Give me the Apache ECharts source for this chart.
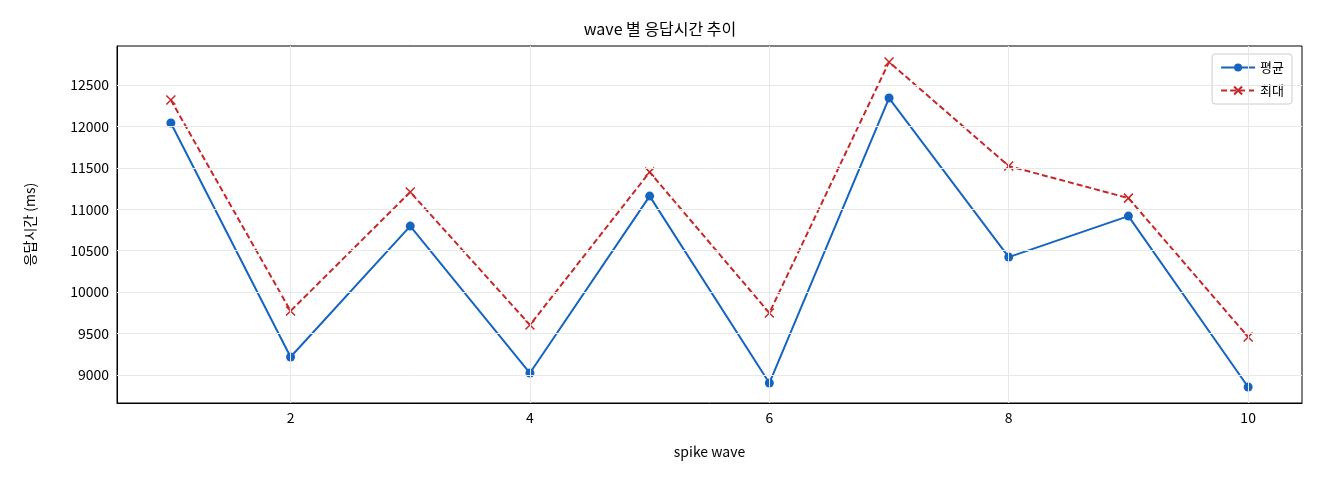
<!DOCTYPE html>
<html><head><meta charset="utf-8">
<script src="https://cdn.jsdelivr.net/npm/echarts@6/dist/echarts.min.js"></script>
<style>html,body{margin:0;padding:0;background:#fff}#c{width:1320px;height:480px}</style>
</head><body><div id="c"></div>
<script>
const waves = [1,2,3,4,5,6,7,8,9,10];
const avgVals = [12041,9217,10797,9024,11159,8903,12343,10423,10918,8855];
const maxVals = [12319,9773,11208,9604,11449,9749,12778,11522,11135,9459];
const yTicks = [9000,9500,10000,10500,11000,11500,12000,12500];
const xTicks = [2,4,6,8,10];
const F = '"Noto Sans CJK KR", "Noto Sans", sans-serif';
const gridStyle = {color:'#e8e8e8', type:'solid', width:1};
const chart = echarts.init(document.getElementById('c'));
chart.setOption({
  animation:false,
  textStyle:{fontFamily:F},
  title:{text:'wave 별 응답시간 추이', left:'center', top:16, textStyle:{fontFamily:F,fontSize:16,fontWeight:'normal',color:'#000'}},
  grid:{left:117,right:18,top:46,bottom:77,show:true,borderColor:'#000',borderWidth:1},
  legend:{orient:'vertical',right:28,top:54,backgroundColor:'#fff',borderColor:'#ccc',borderWidth:1,borderRadius:3,padding:[7,8],itemGap:10,itemWidth:34,itemHeight:10,textStyle:{fontFamily:F,fontSize:13,color:'#000'},
    data:['평균','최대']},
  xAxis:{type:'value',min:0.55,max:10.45,axisLine:{show:true,lineStyle:{color:'#000'}},axisTick:{show:false},axisLabel:{show:false},splitLine:{show:false},
    name:'spike wave',nameLocation:'middle',nameGap:42,nameTextStyle:{fontFamily:F,fontSize:14,color:'#000'}},
  yAxis:{type:'value',min:8662,max:12971,axisLine:{show:true,lineStyle:{color:'#000'}},axisTick:{show:false},axisLabel:{show:false},splitLine:{show:false},
    name:'응답시간 (ms)',nameLocation:'middle',nameGap:80,nameTextStyle:{fontFamily:F,fontSize:14,color:'#000'}},
  series:[
    {name:'grid',type:'line',data:[],silent:true,markLine:{silent:true,symbol:'none',animation:false,
      data:[...yTicks.map(v=>({yAxis:v,lineStyle:gridStyle,label:{show:true,position:'start',formatter:String(v),fontFamily:F,fontSize:14,color:'#000',distance:8}})),
            ...xTicks.map(v=>({xAxis:v,lineStyle:gridStyle,label:{show:true,position:'start',formatter:String(v),fontFamily:F,fontSize:14,color:'#000',distance:8}}))]}},
    {name:'평균',type:'line',data:waves.map((w,i)=>[w,avgVals[i]]),symbol:'circle',symbolSize:9,
      lineStyle:{color:'#1565c0',width:2},itemStyle:{color:'#1565c0'}},
    {name:'최대',type:'line',data:waves.map((w,i)=>[w,maxVals[i]]),symbol:'path://M0,0L10,10M10,0L0,10',symbolSize:9,
      lineStyle:{color:'#c62828',width:2,type:[6,3]},itemStyle:{color:'none',borderColor:'#c62828',borderWidth:1.5}}
  ]
});
</script></body></html>
